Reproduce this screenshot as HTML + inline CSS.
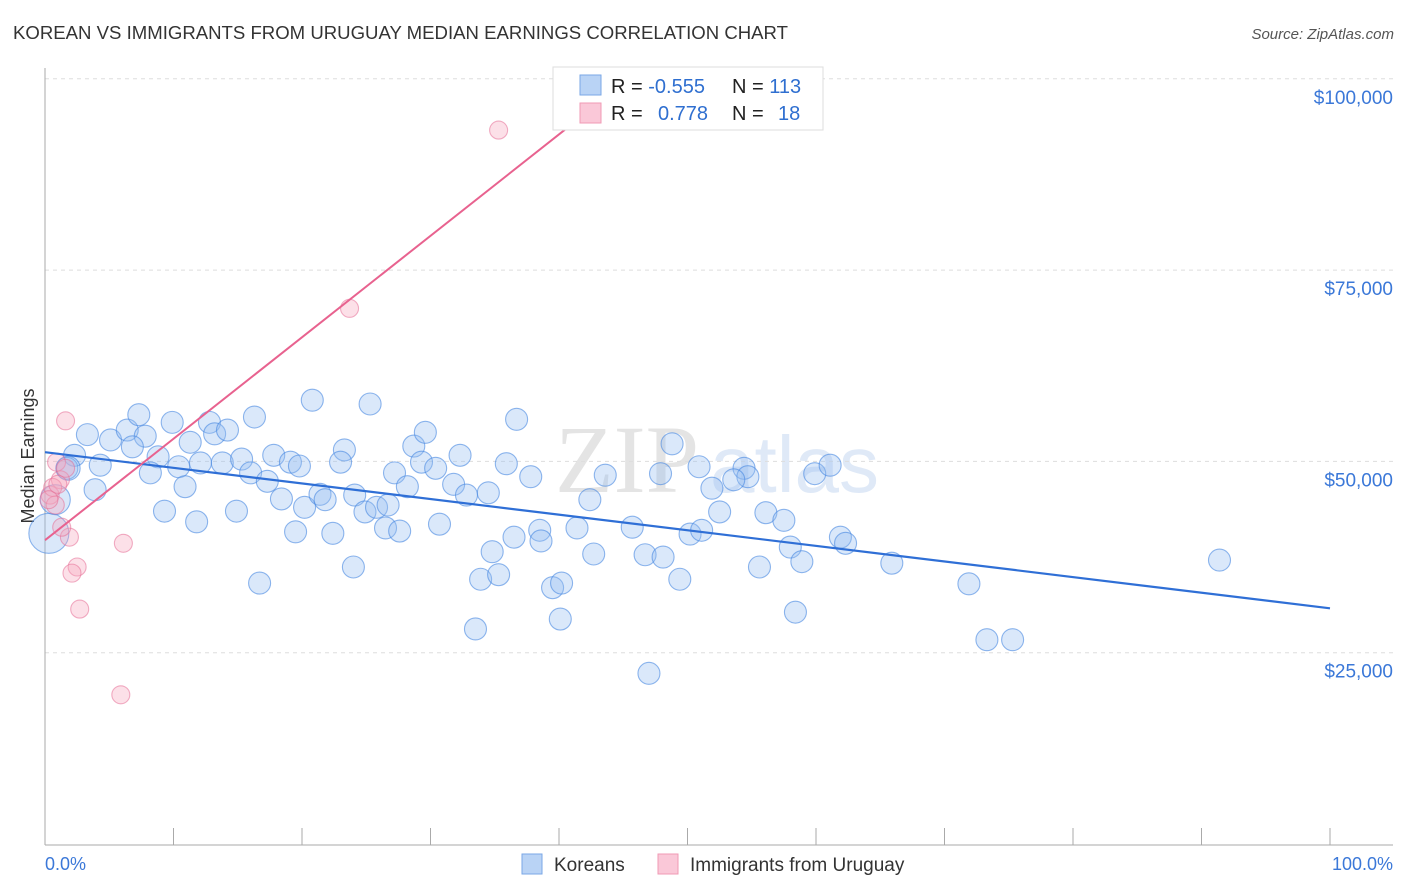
<!DOCTYPE html>
<html><head><meta charset="utf-8">
<style>
body{margin:0;background:#fff;font-family:"Liberation Sans",sans-serif;}
#wrap{position:relative;width:1406px;height:892px;overflow:hidden;}
</style></head>
<body>
<div id="wrap">
<svg id="svg" width="1406" height="892" xmlns="http://www.w3.org/2000/svg">
<text x="13" y="39" font-size="18" fill="#333" textLength="775" lengthAdjust="spacingAndGlyphs">KOREAN VS IMMIGRANTS FROM URUGUAY MEDIAN EARNINGS CORRELATION CHART</text>
<text x="1394" y="39" font-size="15" fill="#555" text-anchor="end" font-style="italic">Source: ZipAtlas.com</text>
<text x="0" y="0" transform="translate(34,456) rotate(-90)" font-size="18" fill="#333" text-anchor="middle">Median Earnings</text>
<g>
<text x="555" y="492" font-size="96" font-family="Liberation Serif,serif" fill="#e4e4e4">ZIP</text>
<text x="710" y="492" font-size="80" fill="#dfe9f7">atlas</text>
</g>
<g id="grid"></g>
<g id="axes"></g>
<g id="pts"></g>
<g id="lines"></g>
<g>
<rect x="553" y="67" width="270" height="63" fill="#fff" stroke="#ddd"/>
<rect x="580" y="75" width="21" height="20" fill="#b9d3f5" stroke="#7aa7e6"/>
<rect x="580" y="103" width="21" height="20" fill="#fac8d8" stroke="#f09ab4"/>
<text x="611" y="93" font-size="20" fill="#222">R = <tspan fill="#2f6fd0">-0.555</tspan></text>
<text x="732" y="93" font-size="20" fill="#222">N = <tspan fill="#2f6fd0">113</tspan></text>
<text x="611" y="120" font-size="20" fill="#222">R = </text>
<text x="658" y="120" font-size="20" fill="#2f6fd0">0.778</text>
<text x="732" y="120" font-size="20" fill="#222">N = </text>
<text x="778" y="120" font-size="20" fill="#2f6fd0">18</text>
</g>
<g>
<rect x="522" y="854" width="20" height="20" fill="#b9d3f5" stroke="#7aa7e6"/>
<text x="554" y="871" font-size="19" fill="#333">Koreans</text>
<rect x="658" y="854" width="20" height="20" fill="#fac8d8" stroke="#f09ab4"/>
<text x="690" y="871" font-size="19" fill="#333">Immigrants from Uruguay</text>
</g>
<text x="45" y="870" font-size="18" fill="#3b78d8">0.0%</text>
<text x="1393" y="870" font-size="18" fill="#3b78d8" text-anchor="end">100.0%</text>
</svg>
</div>
<script>
const yTicks=[25000,50000,75000,100000];
const yTickLabels=["$25,000","$50,000","$75,000","$100,000"];
const xTickCount=10;
const koreanX=[3.3,5.1,6.4,7.3,7.8,6.8,2.3,4.3,3.9,1.7,9.9,11.3,8.8,10.4,8.2,10.9,9.3,11.8,12.8,13.2,14.2,12.1,13.8,15.3,16.3,16.0,17.3,14.9,17.8,19.1,19.8,18.4,20.2,20.8,21.4,21.8,19.5,22.4,23.3,23.0,25.3,24.1,24.9,25.8,26.7,24.0,26.5,27.6,16.7,28.7,29.6,27.2,29.3,30.4,28.2,32.3,31.8,32.8,34.5,30.7,35.9,36.7,37.8,38.5,38.6,36.5,34.8,33.9,35.3,33.5,39.5,40.2,40.1,41.4,42.7,43.6,42.4,45.7,46.7,48.1,48.8,47.9,50.9,51.9,52.5,50.2,51.1,49.4,54.4,54.7,53.6,56.1,57.5,58.0,55.6,58.9,58.4,59.9,61.1,61.9,62.3,65.9,71.9,73.3,75.3,91.4,47.0,0.3,0.8,1.8];
const koreanY=[53.5,52.8,54.1,56.1,53.3,51.9,50.8,49.5,46.3,49.1,55.1,52.5,50.6,49.3,48.5,46.7,43.5,42.1,55.1,53.6,54.1,49.8,49.8,50.3,55.8,48.5,47.4,43.5,50.8,49.9,49.4,45.1,44.0,58.0,45.7,45.0,40.8,40.6,51.5,49.9,57.5,45.6,43.4,44.0,44.3,36.2,41.3,40.9,34.1,52.0,53.8,48.5,49.9,49.1,46.7,50.8,47.0,45.6,45.9,41.8,49.7,55.5,48.0,41.0,39.6,40.1,38.2,34.6,35.2,28.1,33.5,34.1,29.4,41.3,37.9,48.2,45.0,41.4,37.8,37.5,52.3,48.4,49.3,46.5,43.4,40.5,41.0,34.6,49.1,48.0,47.6,43.3,42.3,38.8,36.2,36.9,30.3,48.4,49.5,40.1,39.3,36.7,34.0,26.7,26.7,37.1,22.3,40.6,45.0,49.1];
const koreanSize=[11,11,11,11,11,11,11,11,11,11,11,11,11,11,11,11,11,11,11,11,11,11,11,11,11,11,11,11,11,11,11,11,11,11,11,11,11,11,11,11,11,11,11,11,11,11,11,11,11,11,11,11,11,11,11,11,11,11,11,11,11,11,11,11,11,11,11,11,11,11,11,11,11,11,11,11,11,11,11,11,11,11,11,11,11,11,11,11,11,11,11,11,11,11,11,11,11,11,11,11,11,11,11,11,11,11,11,20,15,12];
const uruguayX=[1.6,35.3,23.7,6.1,1.9,2.5,2.1,2.7,5.9,1.2,0.4,0.8,1.3,0.9,1.6,0.6,0.3,1.0];
const uruguayY=[55.3,93.3,70.0,39.3,40.1,36.2,35.4,30.7,19.5,47.6,45.6,44.3,41.4,49.9,49.1,46.6,45.0,47.0];
const koreanTrend=[51.2,30.8];
const uruguayTrend=[39.7,93.4];
const uruguayTrendEndX=40.5;

const X0=45,X1=1330,Y0=844,PXK=7.652;
const sx=v=>X0+(v/100)*(X1-X0);
const sy=v=>Y0-v*PXK;
const NS="http://www.w3.org/2000/svg";
function mk(tag,attrs,parent){const e=document.createElementNS(NS,tag);for(const k in attrs)e.setAttribute(k,attrs[k]);parent.appendChild(e);return e;}
const grid=document.getElementById('grid'),axes=document.getElementById('axes'),pts=document.getElementById('pts'),lines=document.getElementById('lines');
yTicks.forEach((t,i)=>{
  const l=mk('line',{x1:X0,x2:1393,y1:sy(t/1000),y2:sy(t/1000),stroke:'#ddd','stroke-dasharray':'4,4'},grid);
  
  
  const tx=mk('text',{x:1393,y:sy(t/1000)+25,'font-size':19,fill:'#3b78d8','text-anchor':'end'},grid);
  tx.textContent=yTickLabels[i];
  
  
});
const ya=mk('line',{x1:X0,x2:X0,y1:68,y2:845,stroke:'#aaa'},axes);


const xa=mk('line',{x1:X0,x2:1393,y1:845,y2:845,stroke:'#aaa'},axes);


for(let i=0;i<=xTickCount;i++){
  const t=mk('line',{x1:sx(i*10),x2:sx(i*10),y1:828,y2:845,stroke:'#aaa'},axes);
  
  
}
koreanX.forEach((x,i)=>{
  const c=mk('circle',{cx:sx(x),cy:sy(koreanY[i]),r:koreanSize[i],fill:'rgba(150,190,242,0.35)',stroke:'rgba(70,135,225,0.6)','stroke-width':1.1},pts);
  
  
});
uruguayX.forEach((x,i)=>{
  const c=mk('circle',{cx:sx(x),cy:sy(uruguayY[i]),r:9,fill:'rgba(245,165,190,0.35)',stroke:'rgba(230,110,150,0.55)','stroke-width':1.1},pts);
  
  
});
const kl=mk('line',{x1:sx(0),y1:sy(koreanTrend[0]),x2:sx(100),y2:sy(koreanTrend[1]),stroke:'#2f6fd6','stroke-width':2.2},lines);


const ul=mk('line',{x1:sx(0),y1:sy(uruguayTrend[0]),x2:sx(uruguayTrendEndX),y2:sy(uruguayTrend[1]),stroke:'#e8628f','stroke-width':2},lines);


</script>
</body></html>
